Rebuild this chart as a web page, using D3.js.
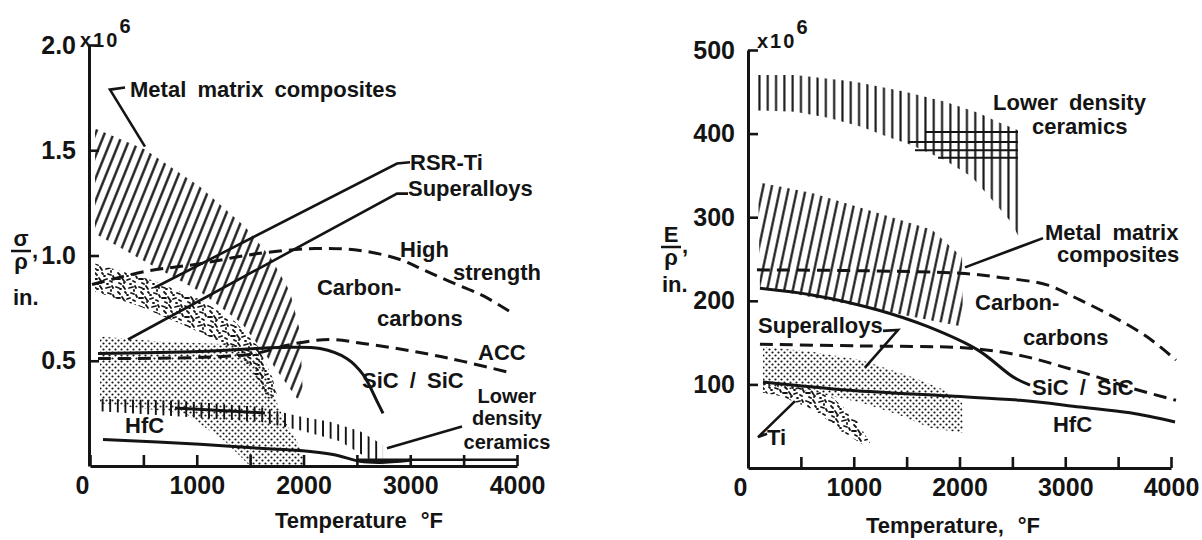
<!DOCTYPE html>
<html>
<head>
<meta charset="utf-8">
<script src="https://cdn.jsdelivr.net/npm/d3@7/dist/d3.min.js"></script>
<style>
html,body{margin:0;padding:0;background:#fff;}
text{font-family:"Liberation Sans",Arial,Helvetica,sans-serif;font-weight:bold;fill:#141414;}
</style>
</head>
<body>
<svg id="fig" width="1202" height="540" viewBox="0 0 1202 540"></svg>
<script>
// ================= DATA =================
const tempTicks = [0, 500, 1000, 1500, 2000, 2500, 3000, 3500, 4000];
const tempLabelValues = [0, 1000, 2000, 3000, 4000];
const strengthTicks = [0.5, 1.0, 1.5, 2.0];
const modulusTicks = [100, 200, 300, 400, 500];

// ---- Left panel: specific strength sigma/rho (in. x10^6) vs temperature (F) ----
const sMetalMatrix = [[47,1.603],[515,1.503],[1030,1.327],[1452,1.137],[1686,0.995],[1873,0.829],[1967,0.639],[1995,0.330],
                      [1939,0.321],[1705,0.487],[1424,0.677],[1030,0.829],[468,0.985],[47,1.104]];
const sRSRTi = [[47,0.962],[562,0.886],[1030,0.791],[1358,0.687],[1574,0.568],[1705,0.425],[1761,0.321],
                [1667,0.321],[1499,0.473],[1218,0.592],[843,0.677],[468,0.758],[47,0.829]];
const sSuperalloys = [[94,0.615],[656,0.592],[1311,0.578],[1574,0.535],[1686,0.378],[1827,0.211],[1967,0.093],[2014,0.0],
                      [1499,0.0],[1265,0.117],[890,0.249],[94,0.297]];
const sLowerDensity = [[94,0.32],[843,0.31],[1593,0.28],[1967,0.235],[2248,0.21],[2529,0.165],[2745,0.10],
                       [2745,0.0],[2623,0.03],[2342,0.117],[1967,0.17],[1593,0.21],[94,0.26]];
const sLowerDensityBar = [[796,0.276],[1639,0.252]];
const sLowerDensityFloor = [[2500,0.03],[4000,0.03]];
const sHighStrengthCC = [[19,0.862],[515,0.924],[1030,0.961],[1574,1.009],[2108,1.033],[2529,1.024],[2904,0.981],
                         [3119,0.933],[3372,0.876],[3681,0.809],[3963,0.724]];
const sACC = [[75,0.511],[1499,0.530],[1873,0.577],[2248,0.601],[2557,0.582],[2876,0.558],[3185,0.53],[3494,0.497],[3963,0.44]];
const sSiCSiC = [[75,0.535],[1030,0.544],[1780,0.563],[2155,0.558],[2408,0.51],[2557,0.435],[2689,0.307],[2745,0.25]];
const sHfC = [[122,0.126],[1030,0.103],[1593,0.084],[1967,0.074],[2276,0.055],[2529,0.022],[2717,0.017],[2998,0.027]];

// ---- Right panel: specific modulus E/rho (in. x10^6) vs temperature (F) ----
const eLowerDensity = [[47,470],[444,470],[1012,462],[1485,450],[1863,438],[2175,425],[2364,414],[2553,404],
                       [2572,273],[2496,293],[2307,321],[2118,348],[1863,368],[1551,386],[1324,396],[1078,408],[757,419],[444,426],[47,428]];
const eLowerDensityRowV = [402, 390, 380, 371];
const eLowerDensityRowFrom = [1674, 1513, 1579, 1797];
const eLowerDensityRowTo = [2553, 2553, 2553, 2553];
const eMetalMatrix = [[95,342],[605,329],[1229,305],[1740,285],[2024,252],[2033,169],[1078,193],[113,216]];
const eHighStrengthCC = [[85,237],[1059,236],[2005,233],[2383,228],[2827,219],[3139,201],[3452,181],[3773,157],[4047,129]];
const eACC = [[113,148],[1059,146],[2005,144],[2383,139],[2667,132],[2979,121],[3300,109],[3612,96],[4047,81]];
const eSiCSiC = [[113,215],[605,207],[1229,189],[1702,169],[2175,141],[2506,109],[2667,99]];
const eHfC = [[142,103],[965,93],[1910,86],[2572,81],[3139,73],[3612,66],[4038,55]];
const eSuperalloys = [[142,145],[605,139],[1078,129],[1551,109],[1863,93],[2024,78],[2033,42],[1721,48],[1437,63],[1078,78],[605,91],[142,99]];
const eTi = [[142,102],[492,99],[775,87],[1012,60],[1154,30],[1087,28],[870,45],[634,69],[303,86],[142,90]];

// ================= DRAWING =================
const INK = "#141414";
const svg = d3.select("#fig");
svg.append("rect").attr("width",1202).attr("height",540).attr("fill","#fff");
const defs = svg.append("defs");

function linePattern(id, spacing, angle, width) {
  const p = defs.append("pattern").attr("id", id).attr("patternUnits", "userSpaceOnUse")
    .attr("width", spacing).attr("height", 10).attr("patternTransform", `rotate(${angle})`);
  p.append("line").attr("x1", spacing/2).attr("x2", spacing/2).attr("y1", -1).attr("y2", 11)
    .attr("stroke", INK).attr("stroke-width", width);
}
linePattern("hatchL", 8.4, 22, 2.3);
linePattern("hatchR", 8.4, 12, 2.2);
linePattern("vlinesR", 8.3, 0, 2.1);
linePattern("vticksL", 7.6, 0, 1.9);

const dots = defs.append("pattern").attr("id","dots").attr("patternUnits","userSpaceOnUse").attr("width",6).attr("height",6);
dots.append("circle").attr("cx",1.5).attr("cy",1.5).attr("r",1.1).attr("fill",INK);
dots.append("circle").attr("cx",4.5).attr("cy",4.5).attr("r",1.1).attr("fill",INK);

// irregular speckle texture (style only)
const speck = defs.append("pattern").attr("id","speck").attr("patternUnits","userSpaceOnUse").attr("width",23).attr("height",19);
["M1,2l3,1","M8,1l2,3","M14,3l4,-1","M20,1l1,2","M3,7l2,2","M10,7l1,1","M16,8l3,1","M21,10l1,2",
 "M1,13l4,0","M7,12l2,3","M12,14l3,-1","M18,15l2,1","M5,4l1,0","M12,10l1,0","M4,17l2,1","M15,18l1,0","M19,5l0,1","M9,17l1,-1"]
  .forEach(d => speck.append("path").attr("d", d).attr("stroke", INK).attr("stroke-width", 1.8).attr("stroke-linecap","round").attr("fill","none"));

function panel(xs, ys) {
  const g = svg.append("g");
  const area = d3.line().x(d => xs(d[0])).y(d => ys(d[1])).curve(d3.curveLinearClosed);
  const curve = d3.line().x(d => xs(d[0])).y(d => ys(d[1])).curve(d3.curveCatmullRom.alpha(0.5));
  const straight = d3.line().x(d => xs(d[0])).y(d => ys(d[1]));
  return {
    g,
    region(pts, fill) { g.append("path").attr("d", area(pts)).attr("fill", fill).attr("stroke","none"); },
    line(pts, dashed, w) {
      g.append("path").attr("d", curve(pts)).attr("fill","none").attr("stroke", INK)
        .attr("stroke-width", w || 3).attr("stroke-dasharray", dashed ? "13,7" : null).attr("stroke-linecap","butt");
    },
    leader(pts) { g.append("path").attr("d", straight(pts)).attr("fill","none").attr("stroke", INK).attr("stroke-width", 2.6); },
    text(T, v, str, anchor, size) {
      g.append("text").attr("x", xs(T)).attr("y", ys(v)).attr("text-anchor", anchor || "start")
        .style("font-size", (size || 22) + "px").style("word-spacing","5px").text(str);
    }
  };
}

function axes(xs, ys, yTicks, yFmt, xAxisY, yAxisX) {
  const gx = svg.append("g").attr("transform", `translate(0,${xAxisY})`)
    .call(d3.axisBottom(xs).tickValues(tempTicks).tickSizeInner(-11).tickSizeOuter(0).tickPadding(10)
      .tickFormat(d => tempLabelValues.includes(d) ? d : ""));
  const gy = svg.append("g").attr("transform", `translate(${yAxisX},0)`)
    .call(d3.axisLeft(ys).tickValues(yTicks).tickSizeInner(-10).tickSizeOuter(0).tickPadding(13).tickFormat(yFmt));
  [gx, gy].forEach(g => {
    g.attr("font-family", null).attr("font-size", null);
    g.select(".domain").attr("stroke", INK).attr("stroke-width", 3);
    g.selectAll(".tick line").attr("stroke", INK).attr("stroke-width", 2.6);
    g.selectAll(".tick text").attr("fill", INK).style("font-size", "25px");
  });
  gx.selectAll(".tick text").filter(d => d === 0).attr("text-anchor","end").attr("dx", -1);
}

function multiplier(x, y) {
  const t = svg.append("text").attr("x", x).attr("y", y).style("font-size","20px").style("letter-spacing","2px").text("x10");
  t.append("tspan").attr("dy", -14).attr("dx", 0).style("font-size","20px").text("6");
}

// ---------- Left panel ----------
const xL = d3.scaleLinear().domain([0, 4000]).range([90, 517]);
const yL = d3.scaleLinear().domain([0, 2]).range([466, 45]);
const L = panel(xL, yL);
L.region(sSuperalloys, "url(#dots)");
L.region(sRSRTi, "url(#speck)");
L.region(sMetalMatrix, "url(#hatchL)");
L.region(sLowerDensity, "url(#vticksL)");
L.line(sLowerDensityBar, false, 3);
L.line(sLowerDensityFloor, false, 2.6);
L.line(sHighStrengthCC, true);
L.line(sACC, true);
L.line(sSiCSiC, false);
L.line(sHfC, false);
L.leader([[328,1.798],[187,1.788],[515,1.517]]);
L.leader([[2998,1.443],[2876,1.437],[609,0.848]]);
L.leader([[2979,1.294],[2876,1.294],[356,0.601]]);
L.leader([[3485,0.188],[2782,0.084]]);
L.text(375, 1.753, "Metal matrix composites");
L.text(2998, 1.406, "RSR-Ti");
L.text(2979, 1.282, "Superalloys");
L.text(2904, 0.993, "High");
L.text(3400, 0.884, "strength");
L.text(2126, 0.812, "Carbon-");
L.text(2689, 0.665, "carbons");
L.text(3635, 0.504, "ACC");
L.text(2548, 0.370, "SiC / SiC");
L.text(3906, 0.299, "Lower", "middle", 20);
L.text(3906, 0.195, "density", "middle", 20);
L.text(3906, 0.081, "ceramics", "middle", 20);
L.text(328, 0.157, "HfC");
axes(xL, yL, strengthTicks, d3.format(".1f"), 466, 89);

// left axis titles
multiplier(80, 47);
svg.append("text").attr("x", 21).attr("y", 246).attr("text-anchor","middle").style("font-size","22px").text("σ");
svg.append("line").attr("x1", 11).attr("x2", 31).attr("y1", 251).attr("y2", 251).attr("stroke", INK).attr("stroke-width", 2.5);
svg.append("text").attr("x", 21).attr("y", 269).attr("text-anchor","middle").style("font-size","22px").text("ρ");
svg.append("text").attr("x", 32).attr("y", 258).style("font-size","22px").text(",");
svg.append("text").attr("x", 13).attr("y", 305).style("font-size","22px").text("in.");
svg.append("text").attr("x", 275).attr("y", 528).style("font-size","22px")
  .text("Temperature").append("tspan").attr("dx", 14).text("°F");

// ---------- Right panel ----------
const xR = d3.scaleLinear().domain([0, 4000]).range([748, 1171]);
const yR = d3.scaleLinear().domain([0, 500]).range([468, 50]);
const R = panel(xR, yR);
R.region(eLowerDensity, "url(#vlinesR)");
eLowerDensityRowV.forEach((v, i) => R.line([[eLowerDensityRowFrom[i], v], [eLowerDensityRowTo[i], v]], false, 2));
R.region(eMetalMatrix, "url(#hatchR)");
R.region(eSuperalloys, "url(#dots)");
R.region(eTi, "url(#speck)");
R.line(eHighStrengthCC, true);
R.line(eACC, true);
R.line(eSiCSiC, false);
R.line(eHfC, false);
R.leader([[2052,240],[2790,275]]);
R.leader([[1277,164],[1418,165],[1106,120]]);
R.leader([[180,41],[95,37],[444,80]]);
R.text(2317, 428, "Lower density");
R.text(2686, 400, "ceramics");
R.text(2809, 273, "Metal matrix");
R.text(2922, 246, "composites");
R.text(2147, 189, "Carbon-");
R.text(2600, 147, "carbons");
R.text(2686, 87, "SiC / SiC");
R.text(2884, 43, "HfC");
R.text(95, 161, "Superalloys");
R.text(180, 27, "Ti");
axes(xR, yR, modulusTicks, d3.format("d"), 468, 748);

multiplier(757, 48);
svg.append("text").attr("x", 671).attr("y", 242).attr("text-anchor","middle").style("font-size","22px").text("E");
svg.append("line").attr("x1", 661).attr("x2", 681).attr("y1", 247).attr("y2", 247).attr("stroke", INK).attr("stroke-width", 2.5);
svg.append("text").attr("x", 671).attr("y", 265).attr("text-anchor","middle").style("font-size","22px").text("ρ");
svg.append("text").attr("x", 682).attr("y", 253).style("font-size","22px").text(",");
svg.append("text").attr("x", 662).attr("y", 292).style("font-size","22px").text("in.");
svg.append("text").attr("x", 866).attr("y", 533).style("font-size","22px")
  .text("Temperature,").append("tspan").attr("dx", 14).text("°F");
</script>
</body>
</html>
